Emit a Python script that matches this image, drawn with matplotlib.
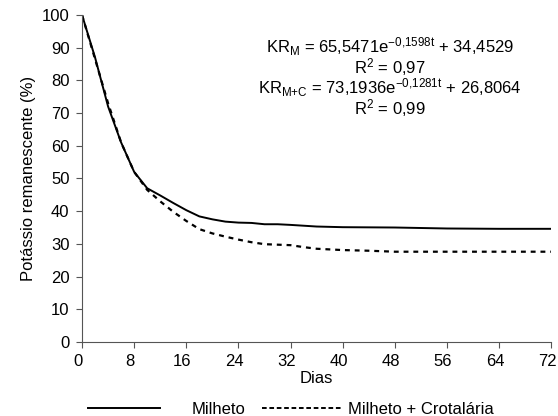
import numpy as np
import matplotlib.pyplot as plt
import matplotlib.transforms as mtransforms
from matplotlib.lines import Line2D

plt.rcParams['font.family'] = ['Liberation Sans', 'DejaVu Sans']
plt.rcParams['mathtext.fontset'] = 'custom'
plt.rcParams['mathtext.rm'] = 'Liberation Sans'
plt.rcParams['mathtext.it'] = 'Liberation Sans'

# days after management
dias_m = [0, 2, 4, 6, 8, 10, 12, 14, 16, 18, 20, 22, 24, 26, 28, 30, 32, 36, 40, 48, 56, 64, 72]
milheto = [100, 87, 72, 61, 52, 47, 44.8, 42.5, 40.3, 38.4, 37.5, 36.8, 36.5, 36.4, 36, 36, 35.8,
           35.3, 35.1, 35.0, 34.7, 34.6, 34.6]

dias_mc = [0, 2, 4, 6, 8, 10, 12, 14, 16, 18, 20, 22, 24, 26, 28, 32, 34, 36, 40, 44, 48, 56, 64, 72]
milheto_crot = [100, 86.5, 73, 61, 52, 46.5, 43, 39.8, 37, 34.5, 33.2, 32.2, 31.3, 30.5, 29.9, 29.6,
                29, 28.5, 28.1, 27.9, 27.6, 27.6, 27.6, 27.6]

x_ticks = list(range(0, 73, 8))
y_ticks = list(range(0, 101, 10))
fs = 12

fig = plt.figure(figsize=(5.58, 4.16), dpi=100)
ax = fig.add_axes([0.147, 0.178, 0.841, 0.786])

ax.plot(dias_mc, milheto_crot, color='black', lw=1.6, dashes=(2.2, 2.2))
ax.plot(dias_m, milheto, color='black', lw=1.4)

ax.set_xlim(0, 72)
ax.set_ylim(0, 100)
ax.set_xticks(x_ticks)
ax.set_yticks(y_ticks)
ax.tick_params(labelsize=fs, direction='out', length=4, color='#555555', pad=5)
# nudge x labels a little left, as in the original
shift = mtransforms.ScaledTranslation(-0.04, 0, fig.dpi_scale_trans)
for lab in ax.get_xticklabels():
    lab.set_transform(lab.get_transform() + shift)
for s in ['top', 'right']:
    ax.spines[s].set_visible(False)
for s in ['left', 'bottom']:
    ax.spines[s].set_color('#555555')
ax.set_xlabel('Dias', fontsize=fs, labelpad=1)
ax.set_ylabel('Potássio remanescente (%)', fontsize=fs, labelpad=4)

eq = [r'KR$_\mathregular{M}$ = 65,5471e$^\mathregular{-0{,}1598t}$ + 34,4529',
      r'R$^\mathregular{2}$ = 0,97',
      r'KR$_\mathregular{M{+}C}$ = 73,1936e$^\mathregular{-0{,}1281t}$ + 26,8064',
      r'R$^\mathregular{2}$ = 0,99']
for i, s in enumerate(eq):
    fig.text(390 / 558, 1 - (47 + 20.5 * i) / 416, s, ha='center', va='center', fontsize=fs)

# legend in two pieces, spacing like the original
fig.legend([Line2D([], [], color='black', lw=1.4)], ['Milheto'], loc='center left',
           bbox_to_anchor=(88 / 558, 1 - 409 / 416), frameon=False, fontsize=fs,
           handlelength=4.3, handletextpad=1.9, borderpad=0, borderaxespad=0)
fig.legend([Line2D([], [], color='black', lw=1.4, dashes=(2.4, 1.4))], ['Milheto + Crotalária'],
           loc='center left', bbox_to_anchor=(262 / 558, 1 - 409 / 416), frameon=False, fontsize=fs,
           handlelength=4.8, handletextpad=0.35, borderpad=0, borderaxespad=0)

fig.savefig('out.png', dpi=100)
